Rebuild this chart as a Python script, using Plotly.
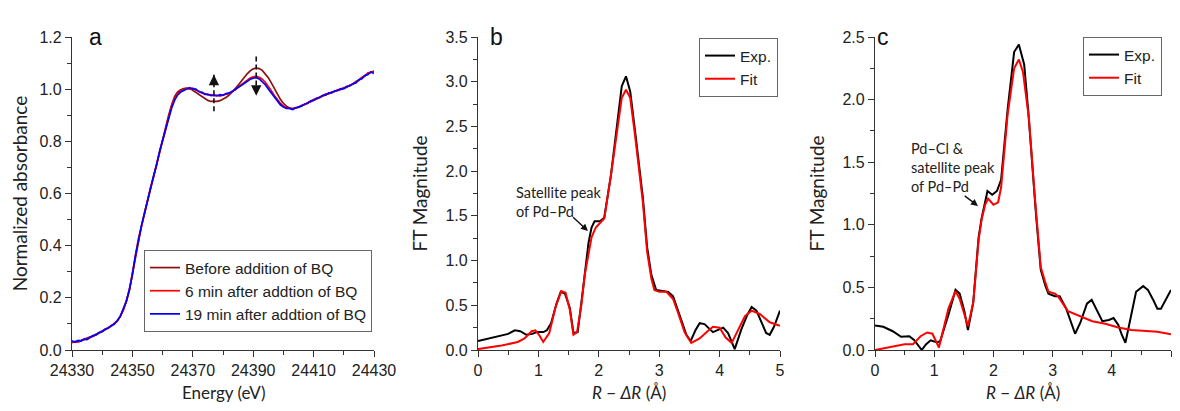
import plotly.graph_objects as go

# ---------------- Panel a: XANES ----------------
energy = list(range(24330, 24431))
before_bq = [
    0.030, 0.031, 0.034, 0.037, 0.041, 0.045, 0.049, 0.054, 0.060, 0.066,
    0.072, 0.078, 0.085, 0.092, 0.101, 0.112, 0.130, 0.155, 0.185, 0.230,
    0.290, 0.360, 0.425, 0.475, 0.525, 0.575, 0.620, 0.665, 0.710, 0.760,
    0.808, 0.855, 0.900, 0.940, 0.972, 0.990, 0.998, 1.002, 1.004, 1.003,
    0.995, 0.988, 0.980, 0.971, 0.963, 0.957, 0.953, 0.952, 0.953, 0.956,
    0.961, 0.968, 0.977, 0.988, 1.001, 1.015, 1.030, 1.045, 1.059, 1.070,
    1.078, 1.081, 1.079, 1.072, 1.060, 1.044, 1.024, 1.002, 0.980, 0.961,
    0.946, 0.935, 0.928, 0.926, 0.927, 0.931, 0.936, 0.941, 0.947, 0.953,
    0.959, 0.964, 0.969, 0.974, 0.979, 0.984, 0.988, 0.992, 0.996, 1.000,
    1.004, 1.009, 1.014, 1.020, 1.027, 1.035, 1.044, 1.053, 1.061, 1.066,
    1.068]
min6_bq = [
    0.028, 0.032, 0.030, 0.036, 0.040, 0.043, 0.050, 0.052, 0.061, 0.064,
    0.073, 0.077, 0.086, 0.091, 0.103, 0.110, 0.133, 0.152, 0.190, 0.228,
    0.295, 0.358, 0.428, 0.473, 0.528, 0.572, 0.624, 0.662, 0.713, 0.757,
    0.810, 0.852, 0.897, 0.935, 0.966, 0.984, 0.994, 0.997, 1.003, 1.000,
    1.004, 0.996, 0.993, 0.985, 0.983, 0.977, 0.979, 0.975, 0.977, 0.973,
    0.978, 0.982, 0.983, 0.992, 0.997, 1.008, 1.016, 1.027, 1.034, 1.043,
    1.047, 1.050, 1.046, 1.038, 1.026, 1.011, 0.994, 0.976, 0.960, 0.946,
    0.936, 0.929, 0.927, 0.924, 0.929, 0.930, 0.938, 0.940, 0.949, 0.951,
    0.961, 0.962, 0.971, 0.973, 0.982, 0.982, 0.990, 0.991, 0.998, 0.998,
    1.006, 1.007, 1.016, 1.019, 1.029, 1.033, 1.046, 1.050, 1.063, 1.064,
    1.070]
min19_bq = [
    0.035, 0.030, 0.037, 0.034, 0.042, 0.040, 0.048, 0.055, 0.058, 0.067,
    0.070, 0.080, 0.083, 0.094, 0.099, 0.114, 0.128, 0.158, 0.187, 0.233,
    0.288, 0.362, 0.423, 0.477, 0.523, 0.577, 0.618, 0.667, 0.708, 0.762,
    0.805, 0.850, 0.892, 0.928, 0.958, 0.978, 0.989, 0.995, 0.999, 1.006,
    1.001, 1.000, 0.990, 0.989, 0.980, 0.981, 0.975, 0.977, 0.974, 0.979,
    0.976, 0.983, 0.986, 0.990, 0.999, 1.005, 1.014, 1.022, 1.030, 1.038,
    1.042, 1.044, 1.039, 1.029, 1.017, 1.001, 0.985, 0.968, 0.953, 0.940,
    0.932, 0.926, 0.926, 0.922, 0.928, 0.932, 0.935, 0.943, 0.945, 0.955,
    0.957, 0.966, 0.967, 0.976, 0.977, 0.986, 0.986, 0.994, 0.994, 1.002,
    1.001, 1.011, 1.012, 1.021, 1.024, 1.036, 1.040, 1.052, 1.056, 1.066,
    1.060]
series_a_names = ["Before addition of BQ", "6 min after addtion of BQ", "19 min after addtion of BQ"]
# dashed arrows in panel a: x, tail y, head y
arrow_x = [24377, 24391]
arrow_tail = [0.915, 1.125]
arrow_head = [1.055, 0.975]

# ---------------- Panel b: FT-EXAFS ----------------
r_b_exp = [0, 0.2, 0.39, 0.5, 0.61, 0.7, 0.8, 0.9, 0.97, 1.08, 1.14, 1.21, 1.3, 1.37, 1.44,
           1.52, 1.58, 1.65, 1.71, 1.77, 1.83, 1.88, 1.93, 2.02, 2.09, 2.2, 2.3, 2.38, 2.45,
           2.52, 2.6, 2.73, 2.8, 2.87, 2.95, 3.05, 3.15, 3.23, 3.34, 3.45, 3.52, 3.6, 3.67,
           3.75, 3.89, 3.98, 4.06, 4.14, 4.25, 4.36, 4.45, 4.53, 4.61, 4.7, 4.77, 4.83, 4.9, 5.0]
b_exp = [0.10, 0.13, 0.16, 0.18, 0.22, 0.21, 0.17, 0.18, 0.20, 0.20, 0.22, 0.30, 0.52, 0.65, 0.63,
         0.47, 0.19, 0.20, 0.52, 0.89, 1.20, 1.37, 1.44, 1.44, 1.48, 1.95, 2.50, 2.95, 3.06,
         2.89, 2.45, 1.70, 1.15, 0.84, 0.67, 0.66, 0.65, 0.60, 0.39, 0.17, 0.10, 0.22, 0.30,
         0.29, 0.20, 0.23, 0.25, 0.19, 0.01, 0.23, 0.38, 0.48, 0.44, 0.30, 0.19, 0.17, 0.26, 0.44]
r_b_fit = [0, 0.39, 0.66, 0.77, 0.89, 0.95, 1.02, 1.08, 1.18, 1.28, 1.38, 1.45, 1.52, 1.58, 1.64,
           1.71, 1.77, 1.83, 1.88, 1.95, 2.02, 2.09, 2.2, 2.3, 2.38, 2.45, 2.52, 2.6, 2.73, 2.8,
           2.87, 2.92, 3.0, 3.12, 3.23, 3.31, 3.42, 3.53, 3.67, 3.8, 3.89, 4.0, 4.1, 4.2, 4.31,
           4.42, 4.53, 4.67, 4.83, 5.0]
b_fit = [0.01, 0.05, 0.09, 0.13, 0.21, 0.22, 0.16, 0.09, 0.19, 0.47, 0.66, 0.64, 0.45, 0.17, 0.20,
         0.50, 0.85, 1.10, 1.26, 1.37, 1.42, 1.47, 1.95, 2.45, 2.82, 2.91, 2.82, 2.40, 1.65, 1.10,
         0.80, 0.67, 0.65, 0.65, 0.57, 0.42, 0.20, 0.08, 0.13, 0.21, 0.26, 0.25, 0.14, 0.08, 0.23,
         0.38, 0.44, 0.40, 0.31, 0.27]

# ---------------- Panel c: FT-EXAFS ----------------
r_c_exp = [0, 0.14, 0.3, 0.44, 0.58, 0.66, 0.79, 0.86, 0.94, 1.05, 1.1, 1.24, 1.36, 1.43, 1.51,
           1.57, 1.66, 1.75, 1.8, 1.86, 1.9, 1.98, 2.06, 2.13, 2.24, 2.35, 2.43, 2.52, 2.59,
           2.72, 2.8, 2.88, 2.93, 3.04, 3.12, 3.23, 3.31, 3.38, 3.47, 3.58, 3.66, 3.75, 3.84,
           3.95, 4.03, 4.11, 4.17, 4.23, 4.33, 4.41, 4.53, 4.61, 4.7, 4.77, 4.83, 4.94, 5.0]
c_exp = [0.195, 0.185, 0.15, 0.105, 0.11, 0.08, 0.0, 0.045, 0.077, 0.06, 0.07, 0.28, 0.48, 0.45,
         0.31, 0.16, 0.38, 0.90, 1.05, 1.20, 1.27, 1.24, 1.27, 1.36, 1.92, 2.38, 2.44, 2.28,
         1.90, 1.08, 0.64, 0.51, 0.45, 0.43, 0.43, 0.33, 0.215, 0.13, 0.22, 0.37, 0.40, 0.32,
         0.23, 0.24, 0.255, 0.20, 0.12, 0.058, 0.30, 0.465, 0.51, 0.48, 0.40, 0.33, 0.33,
         0.43, 0.48]
r_c_fit = [0, 0.5, 0.64, 0.77, 0.88, 0.97, 1.08, 1.16, 1.24, 1.36, 1.43, 1.57, 1.66, 1.75, 1.8,
           1.86, 1.91, 2.0, 2.08, 2.13, 2.24, 2.35, 2.43, 2.5, 2.6, 2.7, 2.8, 2.87, 2.93, 3.04,
           3.09, 3.26, 3.45, 3.67, 3.89, 4.11, 4.33, 4.55, 4.77, 5.0]
c_fit = [0.0, 0.045, 0.045, 0.11, 0.14, 0.13, 0.02, 0.18, 0.33, 0.47, 0.41, 0.19, 0.38, 0.88, 1.04,
         1.16, 1.21, 1.16, 1.18, 1.30, 1.88, 2.25, 2.32, 2.22, 1.85, 1.22, 0.66, 0.55, 0.465, 0.45,
         0.43, 0.31, 0.27, 0.23, 0.21, 0.18, 0.16, 0.15, 0.145, 0.125]

OFF = 8  # page body margin shifts the figure by this many pixels
W, H = 1180 - 2 * OFF, 411 - 2 * OFF  # keep the page free of scrollbars
TICKFONT = dict(family="Liberation Sans, Arial", size=16, color="#222")
TITLEFONT = dict(family="Lato, Open Sans", size=19, color="#222")
XTITLEFONT = dict(family="Lato, Open Sans", size=17, color="#222")
NOTEFONT = dict(family="Lato, Open Sans", size=14.5, color="#222")
LEGFONT = dict(family="Liberation Sans, Arial", size=15.5, color="#222")

def px(x):
    return (x - OFF) / W

def py(y):
    return (H - (y - OFF)) / H

dom_y = [py(350), py(37)]

fig = go.Figure()

colors_a = ["#8B1010", "#FF0000", "#0000FF"]
for name, vals, col in zip(series_a_names, [before_bq, min6_bq, min19_bq], colors_a):
    fig.add_trace(go.Scatter(x=energy, y=vals, mode="lines", name=name,
                             line=dict(color=col, width=1.7), xaxis="x", yaxis="y", legend="legend"))

fig.add_trace(go.Scatter(x=r_b_exp, y=b_exp, mode="lines", name="Exp.",
                         line=dict(color="#000000", width=2), xaxis="x2", yaxis="y2", legend="legend2"))
fig.add_trace(go.Scatter(x=r_b_fit, y=b_fit, mode="lines", name="Fit",
                         line=dict(color="#FF0000", width=2), xaxis="x2", yaxis="y2", legend="legend2"))
fig.add_trace(go.Scatter(x=r_c_exp, y=c_exp, mode="lines", name="Exp.",
                         line=dict(color="#000000", width=2), xaxis="x3", yaxis="y3", legend="legend3"))
fig.add_trace(go.Scatter(x=r_c_fit, y=c_fit, mode="lines", name="Fit",
                         line=dict(color="#FF0000", width=2), xaxis="x3", yaxis="y3", legend="legend3"))

def xaxis(dom, rng, dtick, minor, anchor, fmt, tick0=None):
    d = dict(domain=dom, range=rng, dtick=dtick, anchor=anchor, tickformat=fmt, automargin=False,
             showline=True, linecolor="#333", linewidth=1.2, mirror=False,
             ticks="outside", ticklen=6, tickwidth=1.2, tickcolor="#333",
             minor=dict(dtick=minor, ticks="outside", ticklen=3.5, tickwidth=1, tickcolor="#333"),
             showgrid=False, zeroline=False, tickfont=TICKFONT)
    if tick0 is not None:
        d["tick0"] = tick0
    return d

def yaxis(rng, dtick, minor, title, anchor, fmt):
    return dict(domain=dom_y, range=rng, dtick=dtick, anchor=anchor, tickformat=fmt, automargin=False,
                showline=True, linecolor="#333", linewidth=1.2, mirror=False,
                ticks="outside", ticklen=6, tickwidth=1.2, tickcolor="#333",
                minor=dict(dtick=minor, ticks="outside", ticklen=3.5, tickwidth=1, tickcolor="#333"),
                showgrid=False, zeroline=False, tickfont=TICKFONT,
                title=dict(text=title, font=TITLEFONT, standoff=12))

RTITLE = "<i>R</i> \u2212 <i>\u0394R</i> (\u00c5)"
fig.update_layout(
    width=W, height=H, margin=dict(l=0, r=0, t=0, b=0, autoexpand=False),
    paper_bgcolor="white", plot_bgcolor="white",
    xaxis=xaxis([px(72), px(374)], [24330, 24430], 20, 10, "y", "d", tick0=24330),
    yaxis=yaxis([0, 1.2], 0.2, 0.1, "Normalized absorbance", "x", ".1f"),
    xaxis2=xaxis([px(478), px(780)], [0, 5], 1, 0.5, "y2", "d"),
    yaxis2=yaxis([0, 3.5], 0.5, 0.25, "FT Magnitude", "x2", ".1f"),
    xaxis3=xaxis([px(875), px(1171)], [0, 5], 1, 0.5, "y3", "d"),
    yaxis3=yaxis([0, 2.5], 0.5, 0.25, "FT Magnitude", "x3", ".1f"),
    legend=dict(x=px(372), y=py(250), xanchor="right", yanchor="top",
                bordercolor="#666", borderwidth=1, bgcolor="white",
                font=LEGFONT, tracegroupgap=0, itemwidth=30),
    legend2=dict(x=px(778), y=py(38), xanchor="right", yanchor="top",
                 bordercolor="#666", borderwidth=1, bgcolor="white",
                 font=LEGFONT, tracegroupgap=0, itemwidth=30),
    legend3=dict(x=px(1162), y=py(37), xanchor="right", yanchor="top",
                 bordercolor="#666", borderwidth=1, bgcolor="white",
                 font=LEGFONT, tracegroupgap=0, itemwidth=30),
    showlegend=True,
)

# x-axis titles (placed as text under each panel)
for title, xc in zip(["Energy (eV)", RTITLE, RTITLE], [223, 629, 1023]):
    fig.add_annotation(text=title, x=px(xc), y=py(392), xref="paper", yref="paper",
                       xanchor="center", yanchor="middle", showarrow=False, font=XTITLEFONT)

# panel letters
for letter, xp in zip(["a", "b", "c"], [87, 496, 891]):
    fig.add_annotation(text=letter, x=px(xp), y=py(22), xref="paper", yref="paper",
                       showarrow=False, font=dict(family="Liberation Sans, Arial", size=23, color="#111"))

# dashed arrows panel a
for xa, yt, yh in zip(arrow_x, arrow_tail, arrow_head):
    fig.add_shape(type="line", x0=xa, x1=xa, y0=yt, y1=yh, xref="x", yref="y",
                  line=dict(color="#111", width=1.6, dash="5px,3px"))
    fig.add_annotation(x=xa, y=yh, xref="x", yref="y", text="", showarrow=True,
                       ax=0, ay=(9 if yh > yt else -9), arrowhead=2, arrowsize=1.3,
                       arrowwidth=1.6, arrowcolor="#111")

# text annotations panels b and c
fig.add_annotation(x=0.6, y=1.66, xref="x2", yref="y2", xanchor="left", yanchor="middle",
                   text="Satellite peak<br>of Pd\u2013Pd", align="left", showarrow=False, font=NOTEFONT)
fig.add_annotation(x=1.82, y=1.33, xref="x2", yref="y2", ax=1.55, ay=1.50, axref="x2", ayref="y2",
                   text="", showarrow=True, arrowhead=2, arrowsize=1, arrowwidth=1.4, arrowcolor="#111")
fig.add_annotation(x=0.57, y=1.46, xref="x3", yref="y3", xanchor="left", yanchor="middle",
                   text="Pd\u2013Cl &amp;<br>satellite peak<br>of Pd\u2013Pd", align="left",
                   showarrow=False, font=NOTEFONT)
fig.add_annotation(x=1.74, y=1.15, xref="x3", yref="y3", ax=1.49, ay=1.24, axref="x3", ayref="y3",
                   text="", showarrow=True, arrowhead=2, arrowsize=1, arrowwidth=1.4, arrowcolor="#111")

fig.write_html("out.html")
